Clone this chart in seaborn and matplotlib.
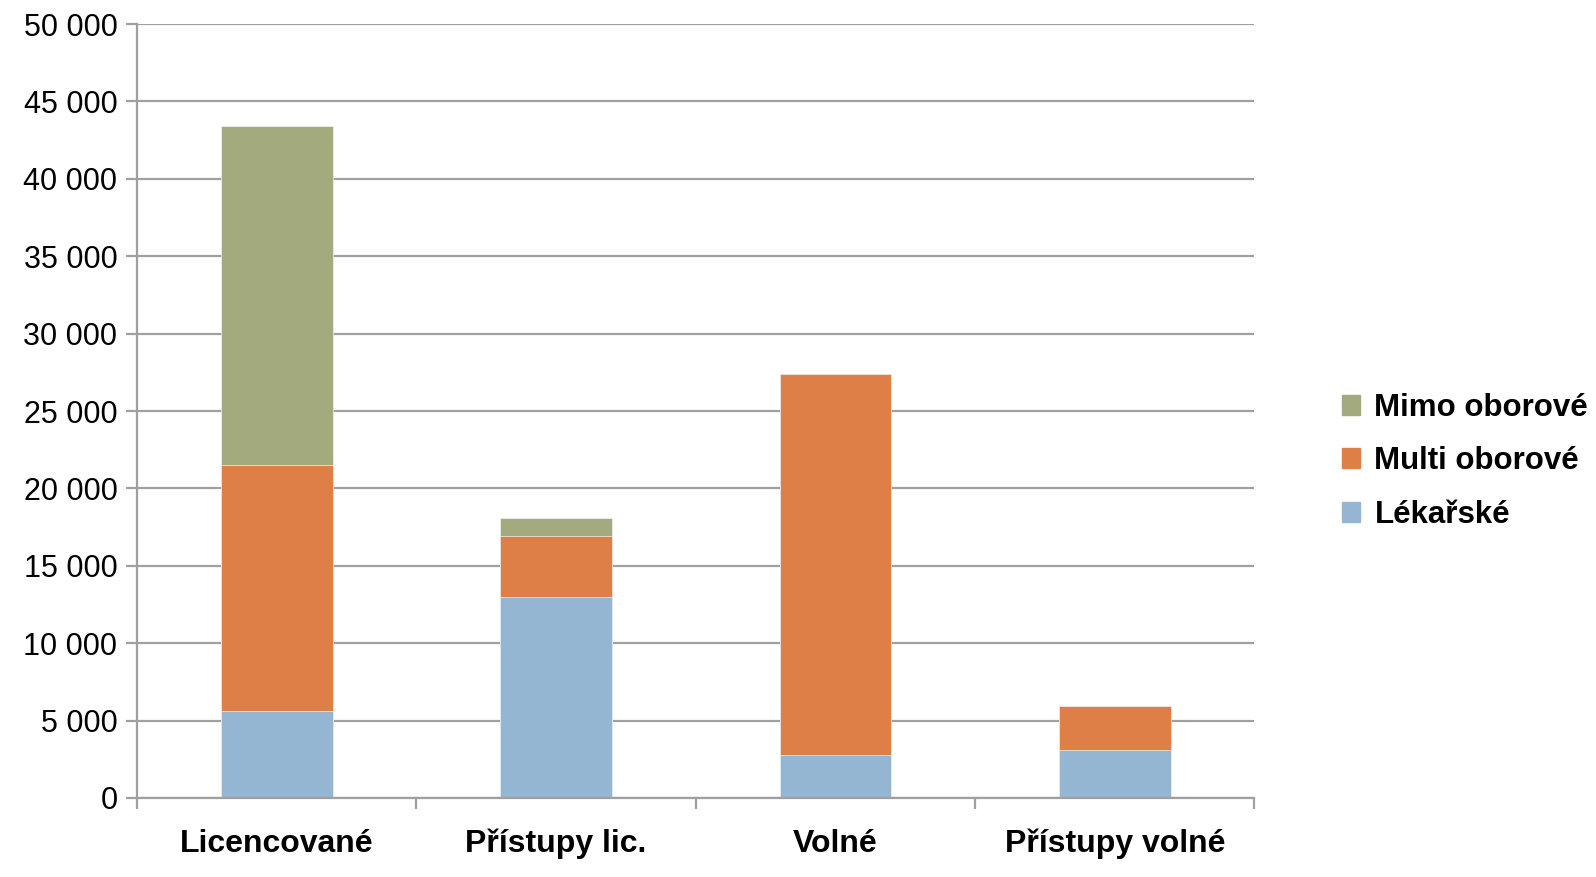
import numpy as np
import pandas as pd
import matplotlib
matplotlib.use("Agg")
import matplotlib.pyplot as plt
import seaborn as sns
from matplotlib.patches import Patch
from matplotlib.ticker import FuncFormatter, FixedLocator

# data
categories = ["Licencované", "Přístupy lic.", "Volné", "Přístupy volné"]
lekarske = [5600, 13000, 2800, 3100]
multi = [15900, 3900, 24600, 2850]
mimo = [21900, 1200, 0, 0]

series_names = ["Lékařské", "Multi oborové", "Mimo oborové"]
colors = {"Lékařské": "#95B6D3", "Multi oborové": "#DD7F46", "Mimo oborové": "#A3AA7D"}

df = pd.DataFrame({"cat": categories, "Lékařské": lekarske,
                   "Multi oborové": multi, "Mimo oborové": mimo})
# cumulative tops for stacking
df["top_lek"] = df["Lékařské"]
df["top_multi"] = df["top_lek"] + df["Multi oborové"]
df["top_mimo"] = df["top_multi"] + df["Mimo oborové"]

sns.set_style("white")
plt.rcParams["font.family"] = ["Liberation Sans", "DejaVu Sans"]
plt.rcParams["text.color"] = "black"

fig = plt.figure(figsize=(15.96, 8.77), dpi=100)
ax = fig.add_axes([0.0858, 0.0901, 0.786 - 0.0858, 0.9726 - 0.0901])

gridc = "#A0A0A0"
ax.set_axisbelow(True)
ax.yaxis.grid(True, color=gridc, linewidth=1.6)

for col, name in [("top_mimo", "Mimo oborové"), ("top_multi", "Multi oborové"), ("top_lek", "Lékařské")]:
    sns.barplot(data=df, x="cat", y=col, color=colors[name], width=0.4,
                saturation=1, edgecolor="#F4F4F4", linewidth=0.5, ax=ax)

ax.set_xlim(-0.5, 3.5)
ax.set_ylim(0, 50000)
ax.set_yticks(np.arange(0, 50001, 5000))
ax.yaxis.set_major_formatter(FuncFormatter(lambda v, p: f"{int(v):,}".replace(",", " ")))
ax.set_xlabel("")
ax.set_ylabel("")

for s in ["top", "right"]:
    ax.spines[s].set_visible(False)
for s in ["left", "bottom"]:
    ax.spines[s].set_color(gridc)
    ax.spines[s].set_linewidth(1.6)

ax.tick_params(axis="y", which="major", length=8, width=1.6, color=gridc,
               labelsize=22, labelcolor="black", pad=6, left=True)
ax.tick_params(axis="x", which="major", length=0, labelsize=23, labelcolor="black", pad=22)
ax.xaxis.set_minor_locator(FixedLocator([-0.5, 0.5, 1.5, 2.5, 3.5]))
ax.tick_params(axis="x", which="minor", length=8, width=1.6, color=gridc, bottom=True)
for lbl in ax.get_xticklabels():
    lbl.set_fontweight("bold")

handles = [Patch(color=colors[n]) for n in ["Mimo oborové", "Multi oborové", "Lékařské"]]
fig.legend(handles, ["Mimo oborové", "Multi oborové", "Lékařské"],
           loc="center left", bbox_to_anchor=(0.823, 0.474), frameon=False,
           prop={"size": 22.5, "weight": "bold"}, handlelength=0.6, handleheight=0.6,
           handletextpad=0.45, labelspacing=0.75, labelcolor="black")

fig.savefig("out.png", dpi=100)
